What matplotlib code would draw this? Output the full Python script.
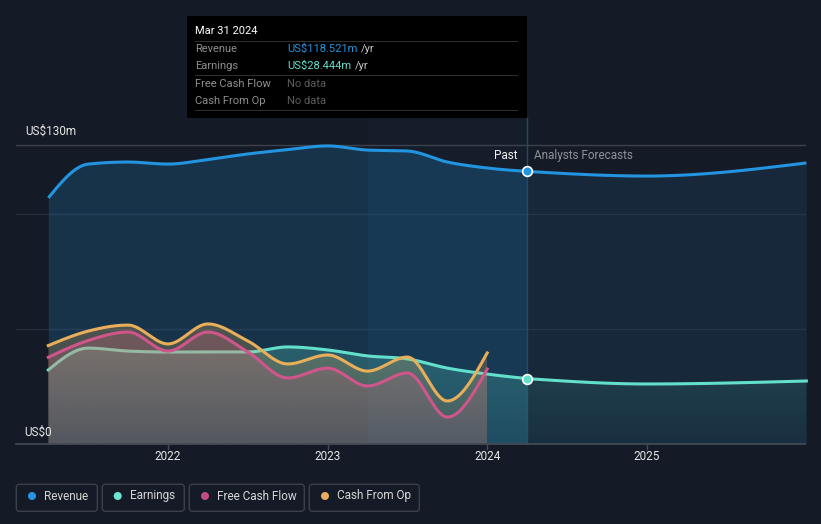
import numpy as np
import matplotlib
matplotlib.use("Agg")
import matplotlib.pyplot as plt
from matplotlib.path import Path
from matplotlib.patches import Rectangle, FancyBboxPatch, Circle
from matplotlib.transforms import IdentityTransform
from matplotlib.colors import to_rgb

plt.rcParams['font.family'] = ['Roboto', 'DejaVu Sans']

# ---------------- data (US$ m) ----------------
past_t = [2021.25, 2021.5, 2021.75, 2022.0, 2022.25, 2022.5, 2022.75,
          2023.0, 2023.25, 2023.5, 2023.75, 2024.0, 2024.25]
revenue = [107.0, 121.7, 122.6, 121.7, 123.7, 126.1, 128.0,
           129.6, 127.8, 127.4, 122.6, 120.0, 118.521]
earnings = [32.2, 41.7, 40.4, 40.0, 40.0, 40.0, 42.2,
            40.9, 38.3, 37.0, 33.0, 30.4, 28.444]

cf_t = [2021.25, 2021.5, 2021.75, 2022.0, 2022.25, 2022.5, 2022.75,
        2023.0, 2023.25, 2023.5, 2023.75, 2024.0]
fcf = [37.7, 45.0, 48.7, 40.4, 48.7, 40.0, 28.7, 33.0, 25.2, 30.9, 11.7, 32.6]
cfo = [42.8, 49.1, 51.7, 43.5, 52.2, 44.8, 34.8, 38.7, 31.7, 37.8, 18.7, 39.6]

fc_t = [2024.25, 2025.0, 2026.0]
rev_fc = [118.521, 116.5, 122.2]
earn_fc = [28.444, 26.1, 27.4]

year_ticks = [2022, 2023, 2024, 2025]
y_labels = ["US$0", "US$130m"]
legend_labels = ["Revenue", "Earnings", "Free Cash Flow", "Cash From Op"]

C_REV = '#2394df'
C_EARN = '#62e0cc'
C_FCF = '#d0558a'
C_CFO = '#e8ae5a'
BG = '#151b26'

W, H = 821, 524
X_2022 = 168.0
PX_YEAR = 159.6
Y_BASE = 444.0
PX_M = 2.3
FS = 8.5


def monotone(x, y, n=60):
    x = np.asarray(x, float)
    y = np.asarray(y, float)
    h = np.diff(x)
    d = np.diff(y) / h
    m = np.zeros_like(y)
    for i in range(1, len(x) - 1):
        p = (d[i - 1] * h[i] + d[i] * h[i - 1]) / (h[i - 1] + h[i])
        m[i] = (np.sign(d[i - 1]) + np.sign(d[i])) * min(abs(d[i - 1]), abs(d[i]), 0.5 * abs(p))
    if len(x) > 2:
        m[0] = (3 * d[0] - m[1]) / 2
        m[-1] = (3 * d[-1] - m[-2]) / 2
    else:
        m[:] = d[0]
    xs, ys = [], []
    for i in range(len(x) - 1):
        t = np.linspace(0, 1, n, endpoint=(i == len(x) - 2))
        h00 = 2 * t**3 - 3 * t**2 + 1
        h10 = t**3 - 2 * t**2 + t
        h01 = -2 * t**3 + 3 * t**2
        h11 = t**3 - t**2
        xs.append(x[i] + t * h[i])
        ys.append(h00 * y[i] + h10 * h[i] * m[i] + h01 * y[i + 1] + h11 * h[i] * m[i + 1])
    return np.concatenate(xs), np.concatenate(ys)


fig = plt.figure(figsize=(W / 100, H / 100), dpi=100)
fig.patch.set_facecolor(BG)
ax = fig.add_axes([0, 0, 1, 1])
ax.set_facecolor(BG)
ax.axis('off')
x0 = 2022 - X_2022 / PX_YEAR
x1 = 2022 + (W - X_2022) / PX_YEAR
y0 = -(H - Y_BASE) / PX_M
y1 = Y_BASE / PX_M


def gfill(xs, ys, color, a_top, a_bot, z):
    verts = np.column_stack([np.concatenate([xs, xs[::-1]]),
                             np.concatenate([ys, np.zeros_like(ys)])])
    path = Path(verts)
    n = 256
    rgba = np.zeros((n, 1, 4))
    rgba[..., :3] = to_rgb(color)
    rgba[:, 0, 3] = np.linspace(a_bot, a_top, n)
    im = ax.imshow(rgba, extent=[xs.min(), xs.max(), 0, ys.max()], origin='lower',
                   aspect='auto', zorder=z, interpolation='bilinear')
    im.set_clip_path(path, ax.transData)


def xf(px):
    return 2022 + (px - X_2022) / PX_YEAR


# gridlines
for v, c in [(130, '#3c414b'), (100, '#252c38'), (50, '#252c38')]:
    ax.plot([xf(16), xf(805)], [v, v], color=c, lw=1, zorder=0.5)

# revenue
rx, ry = monotone(past_t, revenue)
ax.fill_between(rx, 0, ry, color=C_REV, alpha=0.2, lw=0, zorder=1)
fx, fy = monotone(fc_t, rev_fc)
ax.fill_between(fx, 0, fy, color=C_REV, alpha=0.11, lw=0, zorder=1)

# highlight band (last twelve months)
band0, band1 = past_t[-5], past_t[-1]
ax.add_patch(Rectangle((band0, 0), band1 - band0, (Y_BASE - 118) / PX_M,
                       facecolor=C_REV, alpha=0.025, lw=0, zorder=1.2))
inband = (rx >= band0) & (rx <= band1)
ax.fill_between(rx, 0, ry, where=inband, color=C_REV, alpha=0.05, lw=0, zorder=1.2)
ax.plot([band1, band1], [0, (Y_BASE - 118) / PX_M], color='#1f4b6e', lw=1, zorder=1.3)

ax.plot(rx, ry, color=C_REV, lw=2.2, zorder=5, solid_capstyle='butt')
ax.plot(fx, fy, color=C_REV, lw=2.2, zorder=5, solid_capstyle='butt')

# earnings
ex, ey = monotone(past_t, earnings)
gfill(ex, ey, C_EARN, 0.26, 0.12, 2)
efx, efy = monotone(fc_t, earn_fc)
gfill(efx, efy, C_EARN, 0.12, 0.04, 2)
ax.plot(ex, ey, color=C_EARN, lw=2.2, zorder=2.5)
ax.plot(efx, efy, color=C_EARN, lw=2.2, zorder=2.5)

# cash flows
px_, py_ = monotone(cf_t, fcf)
ox_, oy_ = monotone(cf_t, cfo)
gfill(px_, py_, C_FCF, 0.27, 0.15, 3)
gfill(ox_, oy_, C_CFO, 0.27, 0.15, 3.1)
ax.plot(px_, py_, color=C_FCF, lw=2.2, zorder=3.5)
ax.plot(ox_, oy_, color=C_CFO, lw=2.2, zorder=3.6)

# markers
ax.plot([past_t[-1]], [revenue[-1]], 'o', ms=7, mfc=C_REV, mec='white', mew=1.2, zorder=6)
ax.plot([past_t[-1]], [earnings[-1]], 'o', ms=7, mfc=C_EARN, mec='white', mew=1.2, zorder=6)

# baseline and ticks
ax.plot([xf(16), xf(805)], [0, 0], color='#454a54', lw=1.2, zorder=4)
for yv in year_ticks:
    ax.plot([yv, yv], [0, -5 / PX_M], color='#454a54', lw=1, zorder=4)
    ax.text(yv, -(457 - Y_BASE) / PX_M, str(yv), color='#e6e6e6', fontsize=FS,
            ha='center', va='center')

ax.set_xlim(x0, x1)
ax.set_ylim(y0, y1)


def T(x, y):
    return x / W, 1 - y / H


fig.text(*T(25, 131), y_labels[1], color='#e6e6e6', fontsize=FS, va='center', ha='left')
fig.text(*T(24, 432), y_labels[0], color='#e6e6e6', fontsize=FS, va='center', ha='left')
fig.text(*T(517, 156), "Past", color='#f0f0f0', fontsize=FS, va='center', ha='right')
fig.text(*T(534, 156), "Analysts Forecasts", color='#8c9199', fontsize=FS, va='center', ha='left')

# tooltip
TFS = 8
fig.add_artist(Rectangle((187, H - 118), 340, 102, transform=IdentityTransform(),
                         facecolor='black', edgecolor='none', zorder=10))
fig.text(*T(195, 31.5), "Mar 31 2024", color='white', fontsize=TFS, va='center', ha='left', zorder=11)
for yy in [41.7, 58.3, 76, 93.3, 111]:
    fig.add_artist(Rectangle((195, H - yy), 323, 0.8, transform=IdentityTransform(),
                             facecolor='#2e2e2e', edgecolor='none', zorder=11))
rows = [("Revenue", "US$118.521m", C_REV, 49.3),
        ("Earnings", "US$28.444m", C_EARN, 66),
        ("Free Cash Flow", "No data", '#5c5c5c', 84),
        ("Cash From Op", "No data", '#5c5c5c', 101)]
renderer = fig.canvas.get_renderer()
for name, val, col, yy in rows:
    fig.text(*T(195, yy), name, color='#8f8f8f', fontsize=TFS, va='center', ha='left', zorder=12)
    t = fig.text(*T(287, yy), val, color=col, fontsize=TFS, va='center', ha='left', zorder=12)
    if val != "No data":
        bb = t.get_window_extent(renderer=renderer)
        fig.text(bb.x1 / W + 4 / W, 1 - yy / H, "/yr", color='#c8c8c8', fontsize=TFS,
                 va='center', ha='left', zorder=12)

# legend
boxes = [(16.3, 97.3, 32, 44.3), (102.3, 184.3, 117.7, 130), (189.3, 304.3, 205, 217),
         (309.3, 419.3, 325, 337)]
colors = ['#2394df', '#6ee6d4', '#c44b87', '#e6ad62']
for (bx0, bx1, dx, lx), lab, col in zip(boxes, legend_labels, colors):
    fig.add_artist(FancyBboxPatch((bx0, H - 511.3), bx1 - bx0, 27,
                                  boxstyle="round,pad=0,rounding_size=3",
                                  transform=IdentityTransform(), facecolor='none',
                                  edgecolor='#3a3f49', lw=1))
    fig.add_artist(Circle((dx, H - 496), 4, transform=IdentityTransform(), facecolor=col,
                          edgecolor='none'))
    fig.text(*T(lx, 496), lab, color='#d6d6d6', fontsize=FS, va='center', ha='left')

fig.savefig('out.png', dpi=100, facecolor=BG)
